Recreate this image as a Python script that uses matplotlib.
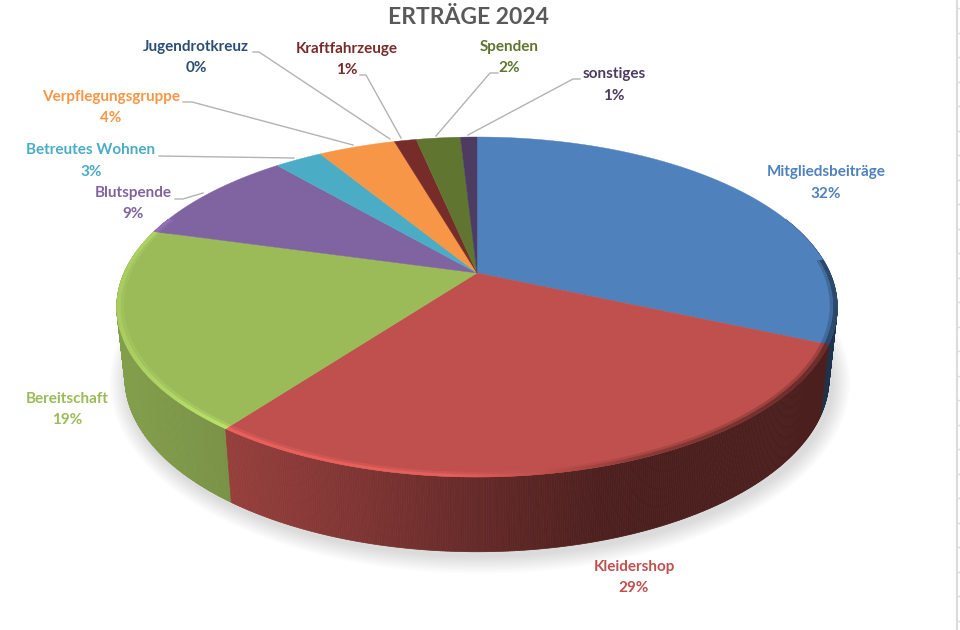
import numpy as np
import matplotlib
matplotlib.use("Agg")
import matplotlib.pyplot as plt
from matplotlib.collections import PolyCollection
from matplotlib.patches import Polygon

plt.rcParams['font.family'] = ['Lato', 'DejaVu Sans']

title = "ERTRÄGE 2024"
categories = ["Mitgliedsbeiträge", "Kleidershop", "Bereitschaft", "Blutspende", "Betreutes Wohnen",
              "Verpflegungsgruppe", "Jugendrotkreuz", "Kraftfahrzeuge", "Spenden", "sonstiges"]
values = [31.6, 28.6, 19.1, 9.4, 2.6, 4.2, 0.0, 1.2, 2.4, 0.9]
colors = ["#4f81bd", "#c0504d", "#9bbb59", "#8064a2", "#4bacc6",
          "#f79646", "#2c4d75", "#772c2a", "#5f7530", "#4d3b62"]
label_pos = [(826, 172), (634, 567), (67, 399), (133, 193), (91, 150),
             (111, 97), (196, 47), (347, 49), (509, 47), (614, 74)]
leaders = {
    "Blutspende": [(175, 199), (183, 199), (203, 193)],
    "Betreutes Wohnen": [(159, 156), (294, 158)],
    "Verpflegungsgruppe": [(183, 102), (192, 102), (353, 145)],
    "Jugendrotkreuz": [(253, 52), (259, 52), (390, 139)],
    "Kraftfahrzeuge": [(360, 75), (366, 75), (401, 138)],
    "Spenden": [(498, 73), (490, 73), (436, 136)],
    "sonstiges": [(580, 79), (573, 79), (468, 135)],
}

CX = 477
K = 0.2


def project(theta, r=1.0, top=True):
    # simple perspective of the round disc, theta runs clockwise from 12 o'clock
    X = r * np.sin(theta)
    Y = r * np.cos(theta)
    w = 1 + K * Y
    if top:
        return CX + 353 * X / w, 273 - 163.2 * Y / w
    return CX + 345 * X / w, 343 - 167 * Y / w


def mix(color, f):
    c = np.array(matplotlib.colors.to_rgb(color)) * f
    return tuple(np.clip(c, 0, 1))


fig = plt.figure(figsize=(9.6, 6.3), dpi=100)
ax = fig.add_axes([0, 0, 1, 1])
ax.set_xlim(0, 960)
ax.set_ylim(630, 0)
ax.axis('off')

# sheet grid peeking in at the right edge
ax.plot([957, 957], [0, 630], color="#dcdcdc", lw=1.5)
for gy in np.arange(8, 630, 24.5):
    ax.plot([957, 960], [gy, gy], color="#dcdcdc", lw=1)

# soft shadow under the disc
t = np.linspace(0, 2 * np.pi, 300)
sx, sy = project(t, top=False)
for i in range(12, 0, -1):
    grow = i * 1.5
    px = CX + (sx - CX) * (1 + grow / 350) + 3
    py = 378 + (sy - 378) * (1 + grow / 175) + 4
    ax.add_patch(Polygon(np.column_stack([px, py]), closed=True, fc="#808080", ec="none", alpha=0.022, zorder=1))

edges = np.cumsum([0] + values) / sum(values) * 2 * np.pi

# side wall, back pieces first
quads = []
quad_colors = []
quad_y = []
bevel = []
bevel_soft = []
bevel_colors = []
for i, col in enumerate(colors):
    n = max(int((edges[i + 1] - edges[i]) * 180), 0)
    steps = np.linspace(edges[i], edges[i + 1], n + 1)
    for a, b in zip(steps[:-1], steps[1:]):
        m = (a + b) / 2
        if np.cos(m) > 0.35:
            continue
        x1, y1 = project(a)
        x2, y2 = project(b)
        x3, y3 = project(b, top=False)
        x4, y4 = project(a, top=False)
        quads.append([(x1, y1), (x2, y2), (x3, y3), (x4, y4)])
        xm = (x1 + x2) / 2
        shade = np.interp(xm, [117, 228, 330, 500, 600, 650, 840], [0.85, 0.78, 0.69, 0.5, 0.4, 0.39, 0.39])
        quad_colors.append(mix(col, shade))
        quad_y.append(np.cos(m))

        if np.sin(m) > 0 and np.cos(m) > 0.08:
            continue
        xi1, yi1 = project(a, r=0.99)
        xi2, yi2 = project(b, r=0.99)
        xs1, ys1 = project(a, r=0.98)
        xs2, ys2 = project(b, r=0.98)
        bevel.append([(x1, y1), (x2, y2), (xi2, yi2), (xi1, yi1)])
        bevel_soft.append([(xi1, yi1), (xi2, yi2), (xs2, ys2), (xs1, ys1)])
        glow = np.interp(xm, [117, 228, 450, 540, 640, 800], [1.1, 1.22, 1.2, 1.0, 0.72, 0.55])
        bevel_colors.append(mix(col, glow))

order = np.argsort(quad_y)[::-1]
ax.add_collection(PolyCollection([quads[j] for j in order], facecolors=[quad_colors[j] for j in order],
                                 edgecolors=[quad_colors[j] for j in order], linewidths=0.5, zorder=2))

# top face
for i, col in enumerate(colors):
    if values[i] == 0:
        continue
    th = np.linspace(edges[i], edges[i + 1], 120)
    x, y = project(th)
    xy = np.vstack([[CX, 273], np.column_stack([x, y])])
    ax.add_patch(Polygon(xy, closed=True, fc=col, ec=col, lw=0.3, zorder=3))
ax.add_collection(PolyCollection(bevel_soft, facecolors=bevel_colors, edgecolors='none', alpha=0.4, zorder=4))
ax.add_collection(PolyCollection(bevel, facecolors=bevel_colors, edgecolors=bevel_colors, linewidths=0.3, zorder=4))

# leader lines
for name, pts in leaders.items():
    ax.plot([p[0] for p in pts], [p[1] for p in pts], color="#b3b3b3", lw=1, zorder=5)

# labels
for name, val, col, pos in zip(categories, values, colors, label_pos):
    ax.text(pos[0], pos[1], name, color=col, fontsize=11, fontweight='bold', ha='center', va='center', zorder=6)
    ax.text(pos[0], pos[1] + 21.5, f"{val:.0f}%", color=col, fontsize=11, fontweight='bold',
            ha='center', va='center', zorder=6)

ax.text(468, 18, title, color="#595959", fontsize=16.5, fontweight='bold', ha='center', va='center', zorder=6)

fig.savefig("out.png", dpi=100)
